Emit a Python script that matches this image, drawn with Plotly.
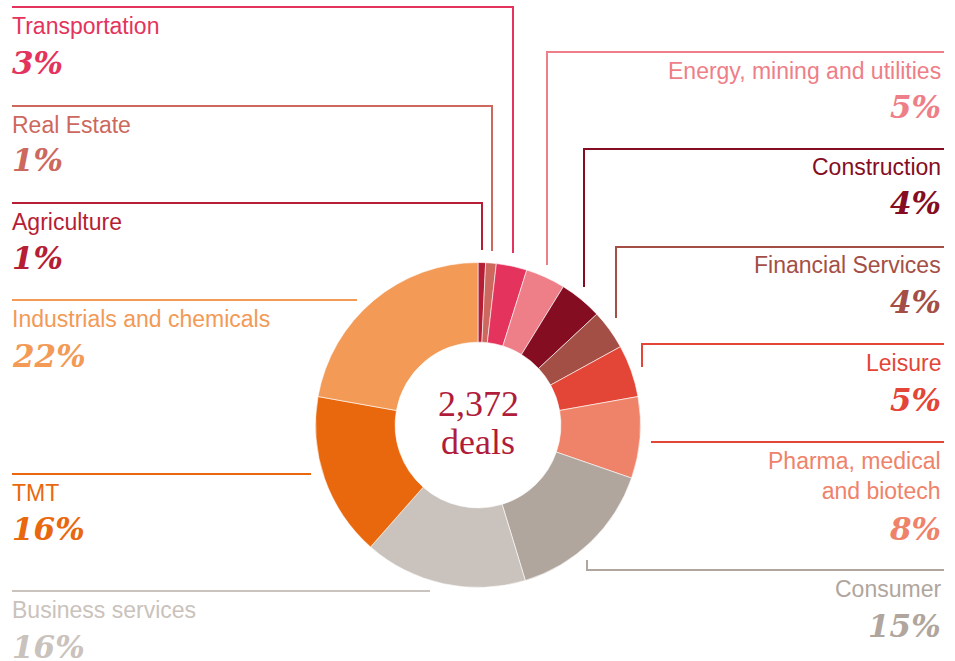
import plotly.graph_objects as go

# sectors, clockwise from 12 o'clock
sectors = ["Agriculture", "Real Estate", "Transportation", "Energy, mining and utilities",
           "Construction", "Financial Services", "Leisure", "Pharma, medical<br>and biotech",
           "Consumer", "Business services", "TMT", "Industrials and chemicals"]
# slice sizes as drawn (share of deals, %)
shares = [0.75, 1.05, 3.05, 3.95, 4.25, 3.95, 5.2, 8.1, 15.0, 16.2, 16.3, 22.2]
# percentages printed beside each sector
pct_labels = [1, 1, 3, 5, 4, 4, 5, 8, 15, 16, 16, 22]
colors = ["#B51E34", "#CD685E", "#E4335C", "#EE7E87", "#850D22", "#A44F46",
          "#E34537", "#EF836A", "#B0A69E", "#CAC2BC", "#E9680E", "#F29A56"]
total_deals = "2,372"

W, H = 955, 661
cx, cy, r = 478, 425, 162.5

# label layout in pixels: side, label y, percent y, leader line points
label_pos = {
    "Transportation": ("left", 26, 63, [(12, 7), (513, 7), (513, 253)]),
    "Real Estate": ("left", 125, 160, [(12, 106), (492, 106), (492, 251)]),
    "Agriculture": ("left", 222, 258, [(12, 203), (482, 203), (482, 250)]),
    "Industrials and chemicals": ("left", 319, 356, [(12, 300), (357, 300)]),
    "TMT": ("left", 493, 529, [(12, 474), (311, 474)]),
    "Business services": ("left", 610, 647, [(12, 591), (430, 591)]),
    "Energy, mining and utilities": ("right", 71, 107, [(944, 52), (547, 52), (547, 265)]),
    "Construction": ("right", 167, 203, [(944, 149), (584, 149), (584, 287)]),
    "Financial Services": ("right", 265, 302, [(944, 247), (616, 247), (616, 318)]),
    "Leisure": ("right", 363, 400, [(944, 344), (642, 344), (642, 367)]),
    "Pharma, medical<br>and biotech": ("right", 476, 529, [(944, 442), (651, 442)]),
    "Consumer": ("right", 589, 626, [(944, 570), (587, 570), (587, 560)]),
}


def px(x):
    return x / W


def py(y):
    return 1 - y / H


fig = go.Figure(go.Pie(
    labels=sectors, values=shares, hole=0.51, sort=False, direction="clockwise",
    rotation=0, textinfo="none", hoverinfo="label",
    marker=dict(colors=colors, line=dict(color="white", width=0.6)),
    domain=dict(x=[px(cx - r), px(cx + r)], y=[py(cy + r), py(cy - r)]),
    showlegend=False,
))

annotations = []
shapes = []
for name, val, col in zip(sectors, pct_labels, colors):
    side, ly, pyy, pts = label_pos[name]
    lcol = "#E34537" if name.startswith("Pharma") else col
    path = "M " + " L ".join(f"{px(x)} {py(y)}" for x, y in pts)
    shapes.append(dict(type="path", path=path, xref="paper", yref="paper",
                       line=dict(color=lcol, width=2)))
    xa = 10 if side == "left" else 943
    anchor = "left" if side == "left" else "right"
    annotations.append(dict(x=px(xa), y=py(ly), xref="paper", yref="paper", text=name,
                            showarrow=False, xanchor=anchor, yanchor="middle", align=anchor,
                            font=dict(family="Liberation Sans", size=23, color=col)))
    annotations.append(dict(x=px(xa), y=py(pyy), xref="paper", yref="paper",
                            text=f"<b><i>{val}%</i></b>", showarrow=False,
                            xanchor=anchor, yanchor="middle",
                            font=dict(family="DejaVu Serif", size=31, color=col)))

for txt, ty in [(total_deals, 404), ("deals", 442)]:
    annotations.append(dict(x=px(cx), y=py(ty), xref="paper", yref="paper",
                            text=txt, showarrow=False, yanchor="middle",
                            font=dict(family="Liberation Serif", size=36, color="#B01C3A")))

fig.update_layout(
    width=W, height=H, margin=dict(l=0, r=0, t=0, b=0),
    paper_bgcolor="white", plot_bgcolor="white",
    annotations=annotations, shapes=shapes,
)
fig.write_html("out.html", config={"displayModeBar": False},
               post_script="document.body.style.margin='0';")
